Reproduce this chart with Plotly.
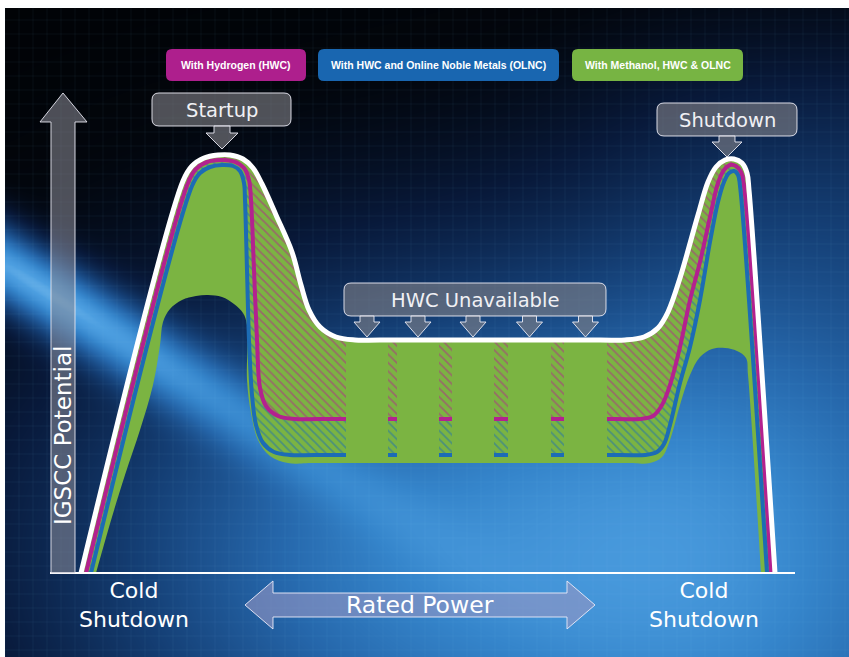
import numpy as np
import plotly.graph_objects as go

W, H = 849, 657
# axis placement: t = 0 at x = 50 px, v = 0 at y = 573 px, 5 px per unit
PX0, PY0, S = 50, 573, 5.0
X_RANGE = [(0 - PX0) / S, (W - PX0) / S]
Y_RANGE = [(PY0 - H) / S, PY0 / S]

# ---------------- data (arbitrary units: time t, IGSCC potential v) ----------------
# outer envelope (no mitigation)
nwc_t = [6.2, 26.6, 28.4, 30.8, 33.6, 36.0, 38.6, 40.6, 42.4, 45.2, 48.4, 50.2, 51.8, 54.0, 57.2,
         61.0, 66.0, 110.0, 115.0, 118.8, 121.6, 123.6, 126.0, 129.6, 131.6, 133.2, 135.0, 136.8,
         138.4, 139.4, 139.8, 145.0]
nwc_v = [0, 78.4, 81.4, 83.0, 83.6, 83.6, 82.8, 81.0, 77.8, 71.6, 64.2, 57.6, 52.6, 49.2, 47.2,
         46.6, 46.6, 46.6, 46.6, 47.2, 49.0, 52.2, 59.0, 71.6, 78.2, 81.2, 82.6, 82.8, 82.0, 80.0,
         76.6, 0]
# With Hydrogen (HWC)
hwc_t = [7.2, 27.6, 29.2, 31.4, 34.4, 37.0, 38.8, 39.8, 40.2, 40.8, 41.4, 42.0, 43.2, 45.6, 49.0,
         54.0, 113.0, 118.0, 120.6, 122.4, 124.0, 126.0, 128.0, 130.0, 132.0, 133.6, 134.8, 136.0,
         137.2, 138.2, 138.8, 144.2]
hwc_v = [0, 78.0, 80.8, 82.2, 82.6, 82.2, 81.0, 78.6, 74.6, 60.6, 46.6, 37.0, 33.4, 31.4, 30.8,
         30.8, 30.8, 30.8, 31.4, 33.6, 37.6, 45.2, 54.6, 62.2, 71.2, 78.0, 80.6, 81.6, 81.4, 80.2,
         77.4, 0]
# With HWC and Online Noble Metals (OLNC)
olnc_t = [8.2, 28.4, 30.0, 32.0, 34.4, 36.6, 38.0, 38.8, 39.0, 39.4, 39.8, 40.4, 41.2, 42.6, 44.8,
          48.0, 53.0, 114.0, 119.0, 121.4, 122.8, 124.0, 126.0, 128.0, 130.0, 132.0, 133.6, 134.8,
          135.8, 136.8, 137.6, 138.0, 143.4]
olnc_v = [0, 77.4, 80.0, 81.2, 81.6, 81.4, 80.4, 78.0, 74.6, 60.6, 46.6, 35.6, 29.6, 26.0, 24.2,
          23.6, 23.6, 23.6, 23.6, 24.2, 25.8, 29.6, 38.0, 45.2, 54.6, 66.2, 74.2, 78.2, 80.0, 80.4,
          79.6, 77.4, 0]
# With Methanol, HWC & OLNC (lower edge of the protected band)
meoh_t = [9.2, 12.4, 15.0, 18.0, 20.6, 22.0, 22.6, 24.0, 26.4, 29.2, 31.6, 34.4, 36.8, 38.6, 39.4,
          39.4, 40.2, 41.6, 44.0, 47.6, 53.0, 115.0, 120.0, 122.4, 124.0, 126.0, 128.0, 130.0,
          132.4, 135.0, 137.4, 139.2, 139.6, 142.2]
meoh_v = [0, 11.2, 19.6, 28.6, 37.6, 45.6, 50.2, 52.8, 54.6, 55.4, 55.6, 55.2, 53.8, 52.0, 49.6,
          38.6, 32.0, 26.6, 23.4, 22.0, 22.0, 22.0, 22.0, 23.2, 26.6, 33.6, 39.6, 43.2, 44.8, 45.0,
          44.4, 43.0, 39.6, 0]
# HWC unavailable periods at rated power
hwc_off_start = [59.2, 69.4, 80.4, 91.6, 102.8]
hwc_off_end = [67.6, 77.8, 88.8, 100.2, 111.4]
rated_top = 46.6      # envelope level at rated power
rated_bottom = 22.0   # methanol band lower edge at rated power
t_end = 149.0         # end of time axis

legend_labels = ["With Hydrogen (HWC)", "With HWC and Online Noble Metals (OLNC)",
                 "With Methanol, HWC & OLNC"]

# ---------------- styles ----------------
MAGENTA = "#b3218f"
BLUE = "#1c6cb5"
GREEN = "#7bb442"
LEG_COLORS = ["#ae1f8d", "#1966b0", "#77b443"]
BOX_FILL = "rgba(128,128,134,0.62)"
BOX_LINE = "rgba(235,235,245,0.9)"
FONT = "DejaVu Sans"


def P(x, y):
    return f"{x / W:.5f},{1 - y / H:.5f}"


def rrect(x0, y0, x1, y1, r):
    return (f"M{P(x0 + r, y0)} L{P(x1 - r, y0)} Q{P(x1, y0)} {P(x1, y0 + r)} "
            f"L{P(x1, y1 - r)} Q{P(x1, y1)} {P(x1 - r, y1)} L{P(x0 + r, y1)} "
            f"Q{P(x0, y1)} {P(x0, y1 - r)} L{P(x0, y0 + r)} Q{P(x0, y0)} {P(x0 + r, y0)} Z")


def poly(pts):
    return "M" + " L".join(P(*p) for p in pts) + " Z"


def down_arrow(cx, ytop, ys, ytip, sw, hw):
    return poly([(cx - sw, ytop), (cx - sw, ys), (cx - hw, ys), (cx, ytip),
                 (cx + hw, ys), (cx + sw, ys), (cx + sw, ytop)])


fig = go.Figure()

# ---------------- background ----------------
xs_px = np.arange(7, 885, 4.0)
ys_px = np.arange(690, 7, -4.0)
XX, YY = np.meshgrid(xs_px, ys_px)
glow = np.exp(-((XX - 490) / 450) ** 2 - ((YY - 560) / 300) ** 2)
right = 0.33 / (1 + np.exp(-(XX - 630) / 80)) / (1 + np.exp(-(YY - 60) / 60))
d = ((YY - 262) - 0.62 * XX) / 1.176
streak = 0.8 * np.exp(-(d / 36) ** 2) * np.exp(-(XX / 260) ** 2)
bright = np.clip(0.04 + 0.76 * glow + right + streak, 0, 1)
BG_SCALE = [[0.0, "#000000"], [0.1, "#02060d"], [0.25, "#08193a"], [0.45, "#143e74"],
            [0.65, "#2566aa"], [0.8, "#3585cb"], [0.92, "#4c9ee0"], [1.0, "#8ccaf5"]]
fig.add_trace(go.Heatmap(x=(xs_px - PX0) / S, y=(PY0 - ys_px) / S, z=bright,
                         colorscale=BG_SCALE, zmin=0, zmax=1, showscale=False,
                         zsmooth="best", hoverinfo="skip"))

gx, gy = [], []
for px in np.arange(5, W + 14, 14):
    gx += [(px - PX0) / S, (px - PX0) / S, None]
    gy += [Y_RANGE[0] - 5, (PY0 - 6) / S, None]
for py in np.arange(6, H + 14, 14):
    gx += [(5 - PX0) / S, X_RANGE[1] + 5, None]
    gy += [(PY0 - py) / S, (PY0 - py) / S, None]
fig.add_trace(go.Scatter(x=gx, y=gy, mode="lines", line=dict(color="rgba(160,200,255,0.06)", width=1),
                         hoverinfo="skip"))

# ---------------- fills ----------------
sp = dict(shape="spline", width=0)
fig.add_trace(go.Scatter(x=meoh_t, y=meoh_v, mode="lines", line=dict(color=GREEN, **sp), hoverinfo="skip"))
fig.add_trace(go.Scatter(x=olnc_t, y=olnc_v, mode="lines", line=dict(color=GREEN, **sp),
                         fill="tonexty", fillcolor=GREEN, hoverinfo="skip"))
fig.add_trace(go.Scatter(x=hwc_t, y=hwc_v, mode="lines", line=dict(color=GREEN, **sp),
                         fill="tonexty", fillcolor=GREEN,
                         fillpattern=dict(shape="\\", fgcolor=BLUE, bgcolor=GREEN, size=6, solidity=0.3),
                         hoverinfo="skip"))
fig.add_trace(go.Scatter(x=nwc_t, y=nwc_v, mode="lines", line=dict(color=GREEN, **sp),
                         fill="tonexty", fillcolor=GREEN,
                         fillpattern=dict(shape="\\", fgcolor=MAGENTA, bgcolor=GREEN, size=6, solidity=0.3),
                         hoverinfo="skip"))

# ---------------- lines ----------------
fig.add_trace(go.Scatter(x=hwc_t, y=hwc_v, mode="lines", line=dict(color=MAGENTA, width=4, shape="spline"),
                         hoverinfo="skip"))
fig.add_trace(go.Scatter(x=olnc_t, y=olnc_v, mode="lines", line=dict(color=BLUE, width=4, shape="spline"),
                         hoverinfo="skip"))

for s, e in zip(hwc_off_start, hwc_off_end):
    fig.add_trace(go.Scatter(x=[s, e, e, s, s], y=[rated_bottom, rated_bottom, rated_top, rated_top, rated_bottom],
                             mode="lines", line=dict(width=0, color=GREEN), fill="toself",
                             fillcolor=GREEN, hoverinfo="skip"))

fig.add_trace(go.Scatter(x=nwc_t, y=nwc_v, mode="lines", line=dict(color="white", width=5, shape="spline"),
                         hoverinfo="skip"))

# ---------------- decorations ----------------
shapes = []
# time axis baseline
shapes.append(dict(type="line", xref="x", yref="y", x0=0, x1=t_end, y0=0, y1=0,
                   line=dict(color="white", width=2), layer="above"))
# y axis arrow
shapes.append(dict(type="path", xref="paper", yref="paper",
                   path=poly([(51, 573), (51, 122), (40, 122), (63, 93), (87, 122), (75, 122), (75, 573)]),
                   fillcolor="rgba(140,140,152,0.55)", line=dict(color="rgba(230,230,240,0.9)", width=1),
                   layer="above"))
# legend boxes
leg_boxes = [(166, 49, 306, 81), (318, 49, 559, 81), (572, 49, 743, 81)]
for (x0, y0, x1, y1), c in zip(leg_boxes, LEG_COLORS):
    shapes.append(dict(type="path", xref="paper", yref="paper", path=rrect(x0, y0, x1, y1, 6),
                       fillcolor=c, line=dict(width=0), layer="above"))
# callouts
callouts = [("Startup", (152, 93, 291, 126)), ("Shutdown", (657, 103, 797, 136)),
            ("HWC Unavailable", (344, 283, 606, 316))]
for _, (x0, y0, x1, y1) in callouts:
    shapes.append(dict(type="path", xref="paper", yref="paper", path=rrect(x0, y0, x1, y1, 7),
                       fillcolor=BOX_FILL, line=dict(color=BOX_LINE, width=1), layer="above"))
pointers = [(222, 126, 133, 149, 8, 16), (727, 136, 142, 157, 8, 15)]
for s, e in zip(hwc_off_start, hwc_off_end):
    cx = PX0 + S * (s + e) / 2
    pointers.append((cx, 316, 322, 337, 7, 13))
for cx, yt, ys, ytip, sw, hw in pointers:
    shapes.append(dict(type="path", xref="paper", yref="paper", path=down_arrow(cx, yt, ys, ytip, sw, hw),
                       fillcolor=BOX_FILL, line=dict(color=BOX_LINE, width=1), layer="above"))
# rated power double arrow
shapes.append(dict(type="path", xref="paper", yref="paper",
                   path=poly([(245, 605), (273, 581), (273, 593), (567, 593), (567, 581), (595, 605),
                              (567, 629), (567, 617), (273, 617), (273, 629)]),
                   fillcolor="rgba(150,150,195,0.6)", line=dict(color="rgba(235,235,250,0.9)", width=1),
                   layer="above"))

ann = []


def txt(text, x, y, size, family=FONT, color="white", angle=0, weight="normal"):
    ann.append(dict(x=x / W, y=1 - y / H, xref="paper", yref="paper", text=text, showarrow=False,
                    xanchor="center", yanchor="middle", textangle=angle,
                    font=dict(family=family, size=size, color=color, weight=weight)))


for (x0, y0, x1, y1), lab in zip(leg_boxes, legend_labels):
    txt(lab, (x0 + x1) / 2, (y0 + y1) / 2, 10.5, family="Liberation Sans", weight="bold")
for lab, (x0, y0, x1, y1) in callouts:
    txt(lab, (x0 + x1) / 2, (y0 + y1) / 2 + 0.5, 19.5, color="#f0f0f4")
txt("IGSCC Potential", 63, 436, 23, angle=-90)
txt("Cold<br>Shutdown", 134, 605, 22)
txt("Cold<br>Shutdown", 704, 605, 22)
txt("Rated Power", 420, 605, 23.5)

fig.update_layout(width=W, height=H, margin=dict(l=0, r=0, t=0, b=0),
                  paper_bgcolor="white", plot_bgcolor="white", showlegend=False,
                  xaxis=dict(range=X_RANGE, visible=False, fixedrange=True),
                  yaxis=dict(range=Y_RANGE, visible=False, fixedrange=True),
                  shapes=shapes, annotations=ann)

fig.write_html("out.html", config={"displayModeBar": False},
               post_script="document.body.style.margin='0';document.body.style.overflow='hidden';")
